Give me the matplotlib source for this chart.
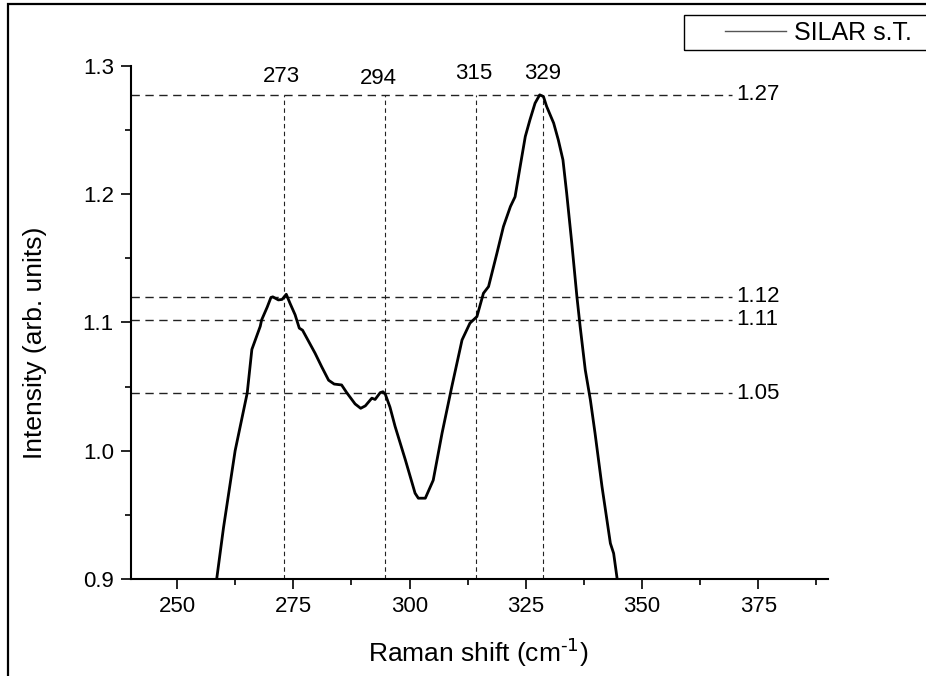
import numpy as np
import matplotlib
matplotlib.use("Agg")
import matplotlib.pyplot as plt
from matplotlib.lines import Line2D
from matplotlib.patches import Rectangle

plt.rcParams['font.family'] = ['Liberation Sans', 'DejaVu Sans']

# Raman spectrum
shift = [258.5, 260.0, 262.5, 265.1, 266.1, 267.9, 268.2, 269.4, 270.2, 270.6,
         271.8, 272.6, 273.5, 274.3, 275.4, 276.3, 277.0, 277.9, 279.7, 281.1,
         282.6, 283.8, 285.4, 286.5, 288.3, 289.5, 290.5, 291.9, 292.6, 293.7,
         294.3, 294.8, 295.8, 296.9, 299.1, 301.2, 301.9, 303.4, 305.1, 307.0,
         309.1, 311.3, 313.0, 314.5, 315.9, 317.0, 318.8, 320.2, 321.7, 322.7,
         323.8, 324.9, 325.9, 327.0, 328.0, 328.8, 329.5, 331.0, 332.0, 333.0,
         333.8, 334.9, 336.0, 336.7, 337.8, 338.9, 339.9, 341.4, 343.2, 343.9,
         344.7]
intensity = [0.899, 0.94, 1.0, 1.045, 1.079, 1.097, 1.102, 1.112, 1.1195, 1.12,
             1.1176, 1.118, 1.122, 1.115, 1.106, 1.0956, 1.094, 1.088, 1.076, 1.0656,
             1.055, 1.052, 1.0513, 1.0453, 1.0365, 1.0331, 1.035, 1.041, 1.040, 1.0453,
             1.046, 1.044, 1.034, 1.019, 0.993, 0.9669, 0.963, 0.963, 0.977, 1.0137,
             1.050, 1.0864, 1.0995, 1.1046, 1.1228, 1.128, 1.154, 1.1748, 1.1904, 1.198,
             1.2217, 1.245, 1.258, 1.271, 1.2775, 1.2762, 1.2684, 1.2555, 1.2424, 1.2268,
             1.2009, 1.1619, 1.1202, 1.0968, 1.063, 1.0396, 1.0137, 0.972, 0.9278, 0.920,
             0.899]

# marker lines
peak_x = [273.0, 294.8, 314.2, 328.7]
peak_labels = ['273', '294', '315', '329']
peak_label_x = [272.4, 293.3, 313.8, 328.7]
peak_label_y = [1.292, 1.290, 1.294, 1.294]

level_y = [1.2775, 1.12, 1.102, 1.045]
level_labels = ['1.27', '1.12', '1.11', '1.05']

fig = plt.figure(figsize=(9.26, 6.76), dpi=100)
ax = fig.add_axes([130.5/926, 1-579/676, (828-130.5)/926, (579-66)/676])

ax.plot(shift, intensity, color='black', lw=2.0, zorder=3, solid_joinstyle='round')

ax.hlines(level_y, 240, 369.4, colors='#222222', lw=1.0, linestyles=(0, (6, 4)))
ax.vlines(peak_x, 0.9, level_y[0], colors='#222222', lw=0.8, linestyles=(0, (4, 3)))

for x, y, s in zip(peak_label_x, peak_label_y, peak_labels):
    ax.text(x, y, s, ha='center', va='center', fontsize=16)
for y, s in zip(level_y, level_labels):
    ax.text(370.3, y, s, ha='left', va='center', fontsize=16)

ax.set_xlim(240, 390)
ax.set_ylim(0.9, 1.3)
ax.set_xticks([250, 275, 300, 325, 350, 375])
ax.set_xticks(np.arange(262.5, 390, 25), minor=True)
ax.set_yticks([0.9, 1.0, 1.1, 1.2, 1.3])
ax.set_yticks([0.95, 1.05, 1.15, 1.25], minor=True)
ax.set_yticklabels(['0.9', '1.0', '1.1', '1.2', '1.3'])
ax.tick_params(which='major', direction='out', length=7, width=1.2, labelsize=16, pad=5)
ax.tick_params(which='minor', direction='out', length=4.5, width=1.2)

for s in ['top', 'right']:
    ax.spines[s].set_visible(False)
for s in ['left', 'bottom']:
    ax.spines[s].set_linewidth(1.5)

fig.text(478/926, 1-652/676, 'Raman shift (cm$^{\\text{-}1}$)', ha='center', va='center', fontsize=19)
fig.text(35/926, 1-343/676, 'Intensity (arb. units)', ha='center', va='center', rotation=90, fontsize=19)

# legend
handle = Line2D([], [], color='#555555', lw=1.0)
ax.legend([handle], ['SILAR s.T.'], loc='center left', bbox_to_anchor=(712/926, 1-32.5/676),
          bbox_transform=fig.transFigure, frameon=False, borderpad=0, handlelength=2.44,
          handletextpad=0.32, fontsize=18)
fig.patches.append(Rectangle((684/926, 1-50/676), 0.5, 35/676, transform=fig.transFigure,
                             fill=False, edgecolor='black', lw=1.0))

# outer frame
fig.patches.append(Rectangle((8/926, -0.5), 1.0, 1.5-3.5/676, transform=fig.transFigure,
                             fill=False, edgecolor='black', lw=1.6))

fig.savefig('out.png', dpi=100)
